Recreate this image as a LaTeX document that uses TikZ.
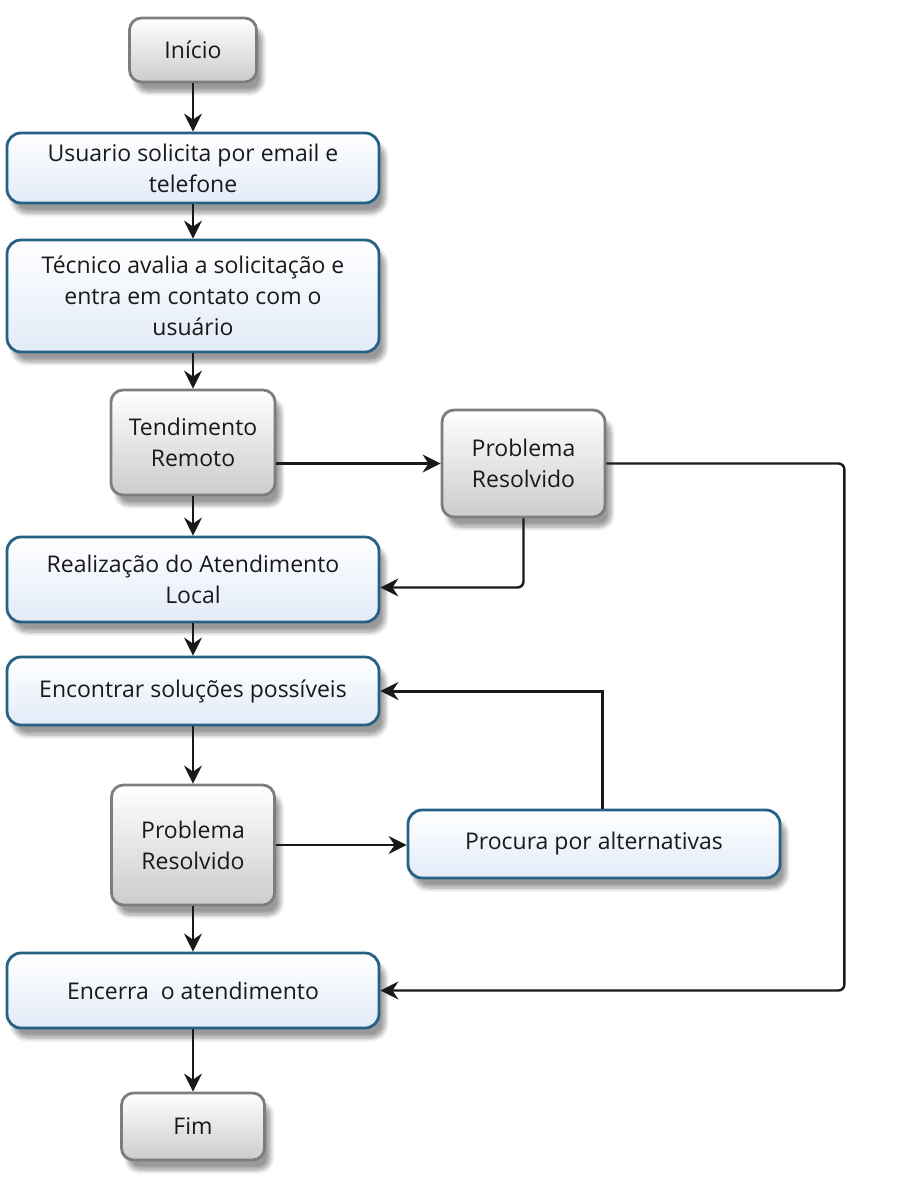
\documentclass[tikz,border=0pt]{standalone}
\usepackage{fontspec}
\setmainfont{Open Sans}
\usetikzlibrary{arrows.meta,positioning,shadows.blur}
\definecolor{boxblue}{RGB}{37,96,133}
\definecolor{boxfill}{RGB}{226,235,248}
\definecolor{boxgray}{RGB}{125,125,125}

\begin{document}
\begin{tikzpicture}[x=0.5pt, y=-0.5pt,
  base/.style={align=center, font=\fontsize{11.5}{15.5}\selectfont, text=black!90, line width=1.4pt,
    blur shadow={shadow xshift=3pt, shadow yshift=-5pt, shadow opacity=40, shadow blur steps=7}},
  task/.style={base, draw=boxblue, rounded corners=7pt, top color=white, bottom color=boxfill, minimum width=186pt},
  term/.style={base, draw=boxgray, rounded corners=6pt, top color=white, bottom color=black!20},
  arr/.style={-{Stealth[length=9pt, width=9pt, inset=3pt]}, line width=1.2pt, black!90}]
\useasboundingbox (0,0) rectangle (900,1178);
\node[term, minimum width=63.5pt, minimum height=32pt] (inicio) at (193,50) {Início};
\node[task, minimum height=35pt] (usr) at (193,168) {Usuario solicita por email e\\telefone};
\node[task, minimum height=56pt] (tec) at (193,296) {Técnico avalia a solicitação e\\entra em contato com o\\usuário};
\node[term, minimum width=82pt, minimum height=52.5pt] (remoto) at (193,442.5) {Tendimento\\Remoto};
\node[term, minimum width=81.5pt, minimum height=53.5pt] (res1) at (523.5,463.5) {Problema\\Resolvido};
\node[task, minimum height=42.5pt] (local) at (193,579.5) {Realização do Atendimento\\Local};
\node[task, minimum height=34pt] (sol) at (193,691) {Encontrar soluções possíveis};
\node[term, minimum width=81.5pt, minimum height=60pt] (res2) at (193,845) {Problema\\Resolvido};
\node[task, minimum height=34pt] (alt) at (594,844) {Procura por alternativas};
\node[task, minimum height=37.5pt] (encerra) at (193,990.5) {Encerra\ \ o atendimento};
\node[term, minimum width=71.5pt, minimum height=33.5pt] (fim) at (193,1126.5) {Fim};
\draw[arr] (inicio) -- (usr);
\draw[arr] (usr) -- (tec);
\draw[arr] (tec) -- (remoto);
\draw[arr] (remoto) -- (local);
\draw[arr] (remoto.east |- res1.west) -- (res1.west);
\draw[arr, rounded corners=3pt] (res1.south) |- ([yshift=-4pt]local.east);
\draw[arr, rounded corners=3pt] (res1.east) -- ++(238,0) |- (encerra.east);
\draw[arr] (local) -- (sol);
\draw[arr] (sol) -- (res2);
\draw[arr] (res2.east) -- (res2.east -| alt.west);
\draw[arr, line width=1.5pt] ([xshift=4pt]alt.north) |- (sol.east);
\draw[arr] (res2) -- (encerra);
\draw[arr] (encerra) -- (fim);
\end{tikzpicture}
\end{document}
